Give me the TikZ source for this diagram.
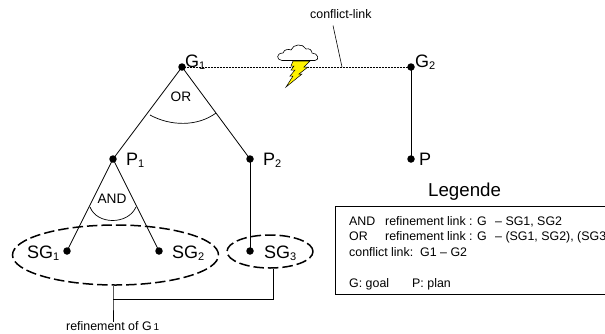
\documentclass[tikz,border=0pt]{standalone}
\usepackage{fontspec}
\setmainfont{Liberation Sans}
\usetikzlibrary{shapes.geometric}
\tikzset{
  dotnode/.style={circle,fill=black,draw=none,minimum size=7.5pt,inner sep=0pt},
  biglabel/.style={font=\fontsize{18}{20}\selectfont,inner sep=0pt,anchor=base west},
  smalllabel/.style={font=\fontsize{12.4}{14}\selectfont,inner sep=0pt,anchor=base west},
  link/.style={draw=black,line width=0.8pt},
  dashell/.style={ellipse,draw=black,line width=1.5pt,dash pattern=on 10.5pt off 4pt,inner sep=0pt},
  leg/.style={font=\fontsize{12.4}{14}\selectfont,inner sep=0pt,anchor=base west},
  inlabel/.style={font=\fontsize{13.7}{15}\selectfont,inner sep=0pt}
}
\newcommand{\subidx}[1]{\raisebox{-0.12em}{\fontsize{11}{12}\selectfont #1}}
\begin{document}
\begin{tikzpicture}[x=1pt,y=-1pt]
\useasboundingbox (0,0) rectangle (605,333);
\clip (0,0) rectangle (605,333);
% dots
\node[dotnode] (G1) at (182,67) {};
\node[dotnode] (G2) at (411,67) {};
\node[dotnode] (P) at (411,159) {};
\node[dotnode] (P1) at (113,159) {};
\node[dotnode] (P2) at (250,159) {};
\node[dotnode] (SG1) at (67,251) {};
\node[dotnode] (SG2) at (159,251) {};
\node[dotnode] (SG3) at (250,251) {};
% links
\draw[link] (G1.center) -- (P1.center);
\draw[link] (G1.center) -- (P2.center);
\draw[link] (P1.center) -- (SG1.center);
\draw[link] (P1.center) -- (SG2.center);
\draw[link] (P2.center) -- (SG3.center);
\draw[link] (G2.center) -- (P.center);
\draw[black,line width=0.9pt,dash pattern=on 0.8pt off 0.7pt] (G1.center) -- (G2.center);
% arcs
\coordinate (orL) at (150,115);
\coordinate (orR) at (216,113);
\coordinate (andL) at (90,207);
\coordinate (andR) at (136,207);
\draw[line width=0.7pt] (orL) .. controls (170,126) and (197,127) .. (orR);
\draw[line width=0.7pt] (andL) .. controls (97,225) and (128,225) .. (andR);
% ellipses
\node[dashell,minimum width=206pt,minimum height=60pt] (E1) at (115.5,255) {};
\node[dashell,minimum width=86pt,minimum height=33pt] (E2) at (270,251.5) {};
% refinement bracket
\coordinate (J) at (113,299);
\coordinate (B) at (113,322);
\coordinate (K) at (273,299);
\draw[link] (E1.south -| J) -- (J) -- (B);
\draw[link] (J) -- (K) -- (K |- E2.south);
% labels
\node[biglabel] (tG1) at (185,67) {G\subidx{1}};
\node[biglabel] (tG2) at (415,67) {G\subidx{2}};
\node[biglabel] (tP) at (419,165) {P};
\node[biglabel] (tP1) at (126,165) {P\subidx{1}};
\node[biglabel] (tP2) at (263,165) {P\subidx{2}};
\node[biglabel] (tSG1) at (27,258) {SG\subidx{1}};
\node[biglabel] (tSG2) at (172,258) {SG\subidx{2}};
\node[biglabel] (tSG3) at (264,258) {SG\subidx{3}};
\node[inlabel] (tOR) at (181,97) {OR};
\node[inlabel] (tAND) at (112,199) {AND};
\node[smalllabel] (tCL) at (310,18) {conflict-link};
\coordinate (clEnd) at (342,67);
\draw[line width=0.6pt] (333,25.5) -- (clEnd);
\node[smalllabel] (tRef) at (66,330.5) {refinement of G\,\fontsize{10}{11}\selectfont 1};
% legend
\node[font=\fontsize{18.7}{21}\selectfont,inner sep=0pt,anchor=base west] (tLeg) at (428,196) {Legende};
\draw[line width=0.8pt] (610,206) -- (335.5,206) -- (335.5,294) -- (610,294);
\node[leg] at (349,225) {AND};
\node[leg] at (385,225) {refinement link};
\node[leg] at (469,225) {: G};
\node[leg] at (495,225) {– SG1, SG2};
\node[leg] at (349,240) {OR};
\node[leg] at (385,240) {refinement link};
\node[leg] at (469,240) {: G};
\node[leg] at (495,240) {– (SG1, SG2), (SG3)};
\node[leg] at (349,256) {conflict link:\ \ G1 – G2};
\node[leg] at (349,287) {G: goal};
\node[leg] at (412,287) {P: plan};
% cloud
\draw[fill=white,line width=0.6pt] (282,60.5) .. controls (276,60) and (276,53) .. (283,53)
  .. controls (284,49) and (289,49) .. (291,50)
  .. controls (293,44) and (303,43) .. (306,49)
  .. controls (309,48) and (312,50) .. (312,53)
  .. controls (318,53) and (320,60) .. (315,60.5) -- cycle;
% bolt
\draw[fill=yellow,line width=0.5pt] (293,61) -- (310,61) -- (304,67) -- (308,67) -- (299,74) -- (302,74) -- (286,87)
  -- (293,76) -- (290,76) -- (295,70) -- (291,70) -- (294,66) -- (291,66) -- cycle;
\end{tikzpicture}
\end{document}
